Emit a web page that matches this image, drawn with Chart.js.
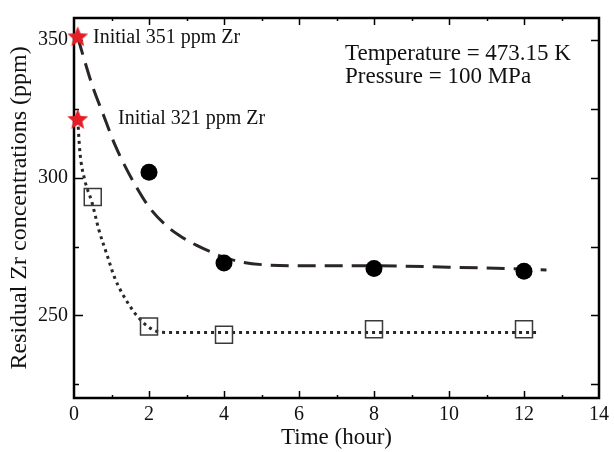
<!DOCTYPE html>
<html>
<head>
<meta charset="utf-8">
<script src="https://cdn.jsdelivr.net/npm/chart.js@4.4.1/dist/chart.umd.min.js"></script>
<style>
  html, body { margin: 0; padding: 0; background: #fff; }
  #wrap { width: 614px; height: 452px; }
</style>
</head>
<body>
<div id="wrap"><canvas id="chart" width="614" height="452"></canvas></div>
<script>
const FONT = '"Liberation Serif", "Times New Roman", Times, serif';

// axis ticks
const X_TICKS = [0, 2, 4, 6, 8, 10, 12, 14];
const Y_TICKS = [250, 300, 350];

// measured points
const HIGH_TIME = [2, 4, 8, 12];
const HIGH_ZR = [302, 269, 267, 266];
const LOW_TIME = [0.5, 2, 4, 8, 12];
const LOW_ZR = [293, 246, 243, 245, 245];
const INITIAL_TIME = [0.1, 0.1];
const INITIAL_ZR = [351, 321];

// fitted curves
const HIGH_FIT_TIME = [0.1, 0.25, 0.5, 0.77, 1.09, 1.35, 1.67, 2.02, 2.47, 2.81, 3.26, 3.69, 4.06, 4.53, 5.15, 6, 8, 10, 12, 12.6];
const HIGH_FIT_ZR = [351, 344, 333, 323.3, 312, 304.5, 296.5, 289, 282.5, 279, 275.5, 272.8, 270.8, 269.2, 268.3, 268, 268, 267.5, 266.8, 266.5];
const LOW_FIT_TIME = [0.1, 0.16, 0.29, 0.48, 0.66, 0.88, 1.09, 1.46, 1.8, 2.15, 2.5, 3, 4, 8, 12.4];
const LOW_FIT_ZR = [321, 309, 299, 291, 281.2, 272, 263.5, 254, 248, 244.5, 243.8, 243.8, 243.8, 243.8, 243.8];

const pts = (xs, ys) => xs.map((v, i) => ({ x: v, y: ys[i] }));

// filled red star used as marker
function makeStar(r) {
  const c = document.createElement('canvas');
  c.width = c.height = r * 2 + 2;
  const g = c.getContext('2d');
  g.translate(r + 1, r + 1);
  g.beginPath();
  for (let i = 0; i < 10; i++) {
    const rad = i % 2 ? r * 0.44 : r;
    const ang = -Math.PI / 2 + i * Math.PI / 5;
    g.lineTo(rad * Math.cos(ang), rad * Math.sin(ang));
  }
  g.closePath();
  g.fillStyle = '#e41e26';
  g.fill();
  return c;
}
const starImg = makeStar(11);

// frame with inward ticks, drawn under the marks
const frameTicks = {
  id: 'frameTicks',
  beforeDatasetsDraw(chart) {
    const { ctx, chartArea: a, scales: { x, y } } = chart;
    ctx.save();
    ctx.strokeStyle = '#000';
    ctx.lineWidth = 1.5;
    ctx.beginPath();
    for (let t = 1; t < 14; t++) {
      const px = Math.round(x.getPixelForValue(t)) + 0.5;
      const len = t % 2 ? 3 : 7;
      ctx.moveTo(px, a.bottom); ctx.lineTo(px, a.bottom - len);
      ctx.moveTo(px, a.top); ctx.lineTo(px, a.top + len);
    }
    for (let v = 225; v <= 350; v += 25) {
      const py = Math.round(y.getPixelForValue(v)) + 0.5;
      const len = v % 50 ? 5 : 9;
      ctx.moveTo(a.left, py); ctx.lineTo(a.left + len, py);
      ctx.moveTo(a.right, py); ctx.lineTo(a.right - 8, py);
    }
    ctx.stroke();
    ctx.lineWidth = 2.5;
    ctx.strokeRect(a.left, a.top, a.right - a.left, a.bottom - a.top);
    ctx.restore();
  },
  afterDraw(chart) {
    const { ctx, scales: { y } } = chart;
    ctx.save();
    ctx.fillStyle = '#111';
    ctx.textBaseline = 'middle';
    ctx.textAlign = 'left';
    ctx.font = '20px ' + FONT;
    ctx.fillText('Initial 351 ppm Zr', 93, y.getPixelForValue(351));
    ctx.fillText('Initial 321 ppm Zr', 118, y.getPixelForValue(321) - 1);
    ctx.font = '23px ' + FONT;
    ctx.fillText('Temperature = 473.15 K', 345, 54);
    ctx.fillText('Pressure = 100 MPa', 345, 77);
    ctx.restore();
  }
};

new Chart(document.getElementById('chart'), {
  type: 'scatter',
  data: {
    datasets: [
      {
        data: pts(HIGH_FIT_TIME, HIGH_FIT_ZR),
        showLine: true, pointRadius: 0,
        borderColor: '#2b2626', borderWidth: 3, borderDash: [18, 9],
        cubicInterpolationMode: 'monotone', order: 5
      },
      {
        data: pts(LOW_FIT_TIME, LOW_FIT_ZR),
        showLine: true, pointRadius: 0,
        borderColor: '#2b2626', borderWidth: 3, borderDash: [3, 4],
        cubicInterpolationMode: 'monotone', order: 5
      },
      {
        data: pts(HIGH_TIME, HIGH_ZR),
        pointStyle: 'circle', pointRadius: 8.5,
        backgroundColor: '#000', borderColor: '#000', borderWidth: 0, order: 1
      },
      {
        data: pts(LOW_TIME, LOW_ZR),
        pointStyle: 'rect', pointRadius: 12,
        backgroundColor: 'rgba(0,0,0,0)', borderColor: '#3a3a3a', borderWidth: 1.5, order: 1
      },
      {
        data: pts(INITIAL_TIME, INITIAL_ZR),
        pointStyle: starImg, clip: false, order: 0
      }
    ]
  },
  options: {
    responsive: false,
    animation: false,
    devicePixelRatio: 1,
    layout: { padding: { top: 12, right: 12, left: 0, bottom: 0 } },
    plugins: { legend: { display: false }, tooltip: { enabled: false } },
    scales: {
      x: {
        type: 'linear', min: 0, max: 14,
        afterBuildTicks: s => { s.ticks = X_TICKS.map(v => ({ value: v })); },
        afterFit: s => { s.height = 54; },
        grid: { display: false, drawTicks: false },
        border: { display: false },
        ticks: { color: '#111', font: { family: FONT, size: 20 }, padding: 5, maxRotation: 0 },
        title: { display: true, text: 'Time (hour)', color: '#111', font: { family: FONT, size: 23 }, padding: { top: 0, bottom: 0 } }
      },
      y: {
        type: 'linear', min: 220, max: 358,
        afterBuildTicks: s => { s.ticks = Y_TICKS.map(v => ({ value: v })); },
        afterFit: s => { s.width = 74; },
        grid: { display: false, drawTicks: false },
        border: { display: false },
        ticks: { color: '#111', font: { family: FONT, size: 20 }, padding: 6 },
        title: { display: true, text: 'Residual Zr concentrations (ppm)', color: '#111', font: { family: FONT, size: 24 }, padding: { top: 5, bottom: 0 } }
      }
    }
  },
  plugins: [frameTicks]
});
</script>
</body>
</html>
